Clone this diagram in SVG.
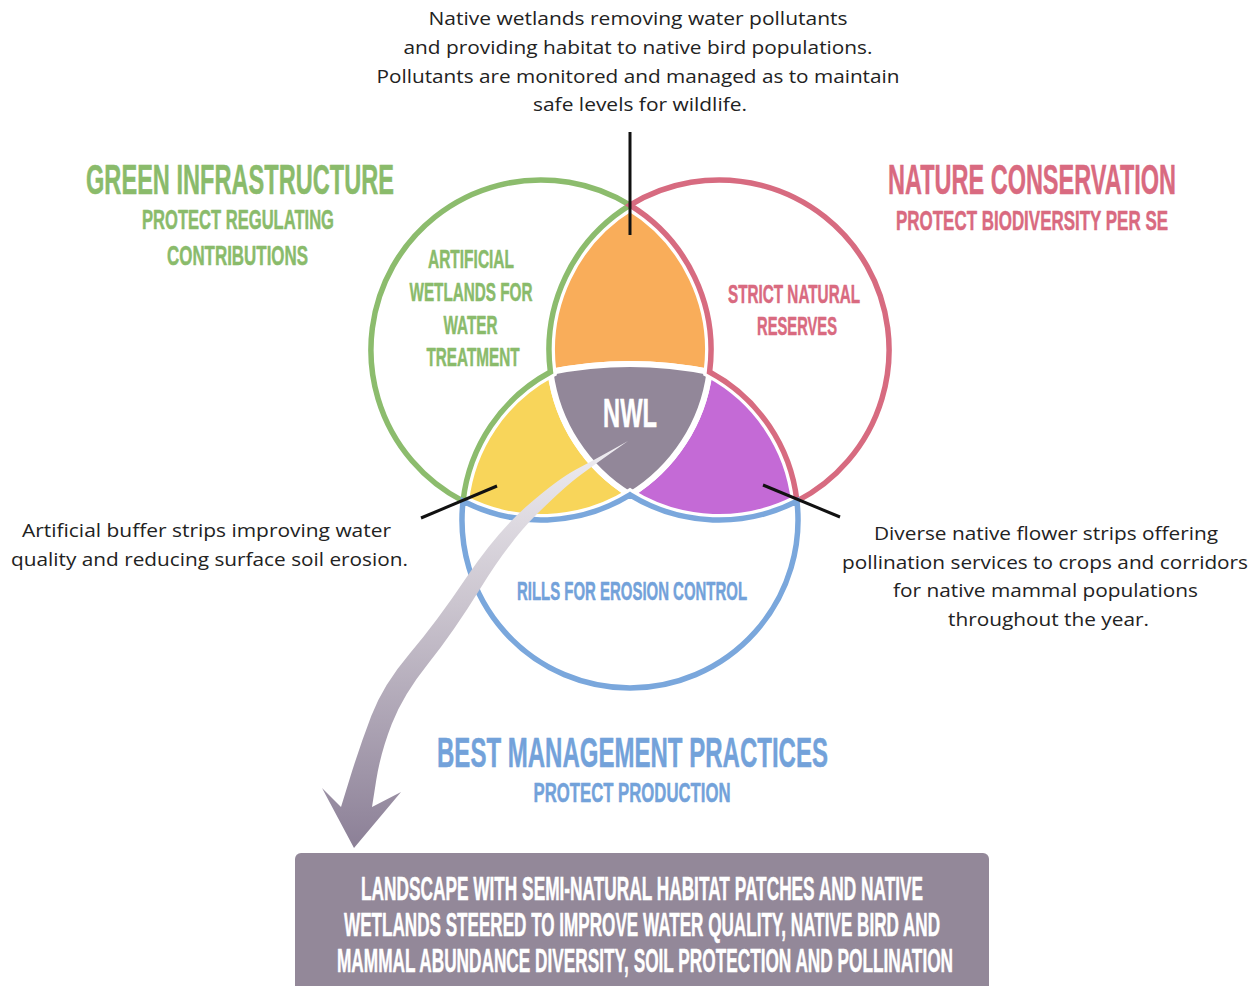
<svg xmlns="http://www.w3.org/2000/svg" width="1257" height="986" viewBox="0 0 1257 986">
<defs>
<style>
.cond{font-family:"Liberation Sans","DejaVu Sans",sans-serif;font-weight:bold;text-anchor:middle;stroke-width:0.5;stroke-linejoin:round}
.body{font-family:"Open Sans","Noto Sans","DejaVu Sans",sans-serif;font-size:19px;fill:#222;text-anchor:middle}
.g{fill:#8abb6b;stroke:#8abb6b}
.r{fill:#d96a80;stroke:#d96a80}
.b{fill:#73a2da;stroke:#73a2da}
.w{fill:#ffffff;stroke:#ffffff}
.region{stroke:#ffffff;stroke-width:6;stroke-linejoin:round}
.under{fill:none;stroke:#ffffff;stroke-width:12;stroke-linejoin:miter}
.line{fill:none;stroke-width:5.5;stroke-linejoin:miter}
.leader{stroke:#111;stroke-width:3;fill:none}
</style>
<linearGradient id="arrowGrad" gradientUnits="userSpaceOnUse" x1="0" y1="440" x2="0" y2="850">
<stop offset="0" stop-color="#f0eef2"/>
<stop offset="0.4" stop-color="#cbc5cf"/>
<stop offset="1" stop-color="#8b7f96"/>
</linearGradient>
</defs>
<rect x="0" y="0" width="1257" height="986" fill="#ffffff"/>

<g id="overlaps">
<path id="region-orange" class="region" fill="#f9ad5a" d="M 630 205.16 A 170 170 0 0 0 550.43 372.04 A 400 400 0 0 1 709.57 372.04 A 170 170 0 0 0 630 205.16 Z"/>
<path id="region-yellow" class="region" fill="#f8d55a" d="M 463.07 501.08 A 168 168 0 0 1 550.43 372.04 A 170 170 0 0 0 630 494.84 A 170 170 0 0 1 463.07 501.08 Z"/>
<path id="region-purple" class="region" fill="#c46ad6" d="M 709.57 372.04 A 168 168 0 0 1 796.93 501.08 A 170 170 0 0 1 630 494.84 A 170 170 0 0 0 709.57 372.04 Z"/>
<g id="node-nwl">
<path class="region" fill="#928799" d="M 550.43 372.04 A 400 400 0 0 1 709.57 372.04 A 170 170 0 0 1 630 494.84 A 170 170 0 0 1 550.43 372.04 Z"/>
<text class="cond w" transform="translate(630 427) scale(0.593 1)" font-size="40" textLength="91" lengthAdjust="spacingAndGlyphs">NWL</text>
</g>
</g>

<g id="outlines-under">
<path class="under" d="M 630 205.16 A 170 170 0 1 0 463.07 501.08 A 168 168 0 0 1 550.43 372.04 A 170 170 0 0 1 630 205.16 Z"/>
<path class="under" d="M 630 205.16 A 170 170 0 1 1 796.93 501.08 A 168 168 0 0 0 709.57 372.04 A 170 170 0 0 0 630 205.16 Z"/>
<path class="under" d="M 463.07 501.08 A 168 168 0 1 0 796.93 501.08 A 170 170 0 0 1 630 494.84 A 170 170 0 0 1 463.07 501.08 Z"/>
</g>

<g id="node-green">
<path class="line" stroke="#8cbc6d" d="M 630 205.16 A 170 170 0 1 0 463.07 501.08 A 168 168 0 0 1 550.43 372.04 A 170 170 0 0 1 630 205.16 Z"/>
<text class="cond g" transform="translate(240 194) scale(0.536 1)" font-size="43" textLength="574.6" lengthAdjust="spacingAndGlyphs">GREEN INFRASTRUCTURE</text>
<text class="cond g" transform="translate(238 228.5) scale(0.588 1)" font-size="27.5" textLength="326.5" lengthAdjust="spacingAndGlyphs">PROTECT REGULATING</text>
<text class="cond g" transform="translate(237.5 264.5) scale(0.604 1)" font-size="27.5" textLength="233.4" lengthAdjust="spacingAndGlyphs">CONTRIBUTIONS</text>
<text class="cond g" transform="translate(471 268) scale(0.573 1)" font-size="26.5" textLength="150.1" lengthAdjust="spacingAndGlyphs">ARTIFICIAL</text>
<text class="cond g" transform="translate(471 301) scale(0.566 1)" font-size="26.5" textLength="217.3" lengthAdjust="spacingAndGlyphs">WETLANDS FOR</text>
<text class="cond g" transform="translate(470.5 334) scale(0.545 1)" font-size="26.5" textLength="99.1" lengthAdjust="spacingAndGlyphs">WATER</text>
<text class="cond g" transform="translate(473 366) scale(0.559 1)" font-size="26.5" textLength="166.4" lengthAdjust="spacingAndGlyphs">TREATMENT</text>
</g>

<g id="node-red">
<path class="line" stroke="#d76b80" d="M 630 205.16 A 170 170 0 1 1 796.93 501.08 A 168 168 0 0 0 709.57 372.04 A 170 170 0 0 0 630 205.16 Z"/>
<text class="cond r" transform="translate(1032 193.5) scale(0.524 1)" font-size="43" textLength="549.6" lengthAdjust="spacingAndGlyphs">NATURE CONSERVATION</text>
<text class="cond r" transform="translate(1032 229.5) scale(0.605 1)" font-size="27.5" textLength="449.6" lengthAdjust="spacingAndGlyphs">PROTECT BIODIVERSITY PER SE</text>
<text class="cond r" transform="translate(794 303) scale(0.561 1)" font-size="26.5" textLength="235.3" lengthAdjust="spacingAndGlyphs">STRICT NATURAL</text>
<text class="cond r" transform="translate(797 335) scale(0.544 1)" font-size="26.5" textLength="147.1" lengthAdjust="spacingAndGlyphs">RESERVES</text>
</g>

<g id="node-blue">
<path class="line" stroke="#7aa7dc" d="M 463.07 501.08 A 168 168 0 1 0 796.93 501.08 A 170 170 0 0 1 630 494.84 A 170 170 0 0 1 463.07 501.08 Z"/>
<text class="cond b" transform="translate(632 600) scale(0.554 1)" font-size="26.5" textLength="415.2" lengthAdjust="spacingAndGlyphs">RILLS FOR EROSION CONTROL</text>
<text class="cond b" transform="translate(632.5 767) scale(0.546 1)" font-size="43" textLength="716.1" lengthAdjust="spacingAndGlyphs">BEST MANAGEMENT PRACTICES</text>
<text class="cond b" transform="translate(632 802) scale(0.577 1)" font-size="28.5" textLength="341.4" lengthAdjust="spacingAndGlyphs">PROTECT PRODUCTION</text>
</g>

<g id="node-top-note">
<text class="body" x="638" y="25" textLength="419" lengthAdjust="spacingAndGlyphs">Native wetlands removing water pollutants</text>
<text class="body" x="638" y="54" textLength="469" lengthAdjust="spacingAndGlyphs">and providing habitat to native bird populations.</text>
<text class="body" x="638" y="83" textLength="523" lengthAdjust="spacingAndGlyphs">Pollutants are monitored and managed as to maintain</text>
<text class="body" x="640" y="111" textLength="214" lengthAdjust="spacingAndGlyphs">safe levels for wildlife.</text>
</g>

<g id="node-left-note">
<text class="body" x="206.5" y="537" textLength="369" lengthAdjust="spacingAndGlyphs">Artificial buffer strips improving water</text>
<text class="body" x="209.5" y="566" textLength="397" lengthAdjust="spacingAndGlyphs">quality and reducing surface soil erosion.</text>
</g>

<g id="node-right-note">
<text class="body" x="1046" y="540" textLength="344" lengthAdjust="spacingAndGlyphs">Diverse native flower strips offering</text>
<text class="body" x="1045" y="569" textLength="406" lengthAdjust="spacingAndGlyphs">pollination services to crops and corridors</text>
<text class="body" x="1045.5" y="597" textLength="305" lengthAdjust="spacingAndGlyphs">for native mammal populations</text>
<text class="body" x="1048.5" y="626" textLength="201" lengthAdjust="spacingAndGlyphs">throughout the year.</text>
</g>

<g id="connectors">
<line class="leader" x1="630" y1="132" x2="630" y2="235"/>
<line class="leader" x1="421" y1="518" x2="497" y2="486"/>
<line class="leader" x1="763" y1="485" x2="840" y2="517"/>
<path id="big-arrow" fill="url(#arrowGrad)" d="M 628 441 L 611 450.5 Q 594 460 576 469.5 Q 558 479 527.5 505.5 Q 497 532 466.75 577 Q 436.5 622 409.75 653.5 Q 383 685 371.25 716 Q 359.5 747 350.25 777 L 341 807 L 322 788 L 354 848 L 401 792 L 372 807 L 376.25 780 Q 380.5 753 391.75 724 Q 403 695 428.25 663.5 Q 453.5 632 481.25 587 Q 509 542 536.7 514.35 Q 564.4 486.7 580.2 475.15 Q 596 463.6 612 452.3 Z"/>
</g>

<g id="node-result">
<rect x="295" y="853" width="694" height="150" rx="6" fill="#938899"/>
<text class="cond w" transform="translate(642 900) scale(0.501 1)" font-size="33.5" textLength="1121.8" lengthAdjust="spacingAndGlyphs">LANDSCAPE WITH SEMI-NATURAL HABITAT PATCHES AND NATIVE</text>
<text class="cond w" transform="translate(642 936) scale(0.498 1)" font-size="33.5" textLength="1196.8" lengthAdjust="spacingAndGlyphs">WETLANDS STEERED TO IMPROVE WATER QUALITY, NATIVE BIRD AND</text>
<text class="cond w" transform="translate(645 972) scale(0.502 1)" font-size="33.5" textLength="1227.1" lengthAdjust="spacingAndGlyphs">MAMMAL ABUNDANCE DIVERSITY, SOIL PROTECTION AND POLLINATION</text>
</g>
</svg>
